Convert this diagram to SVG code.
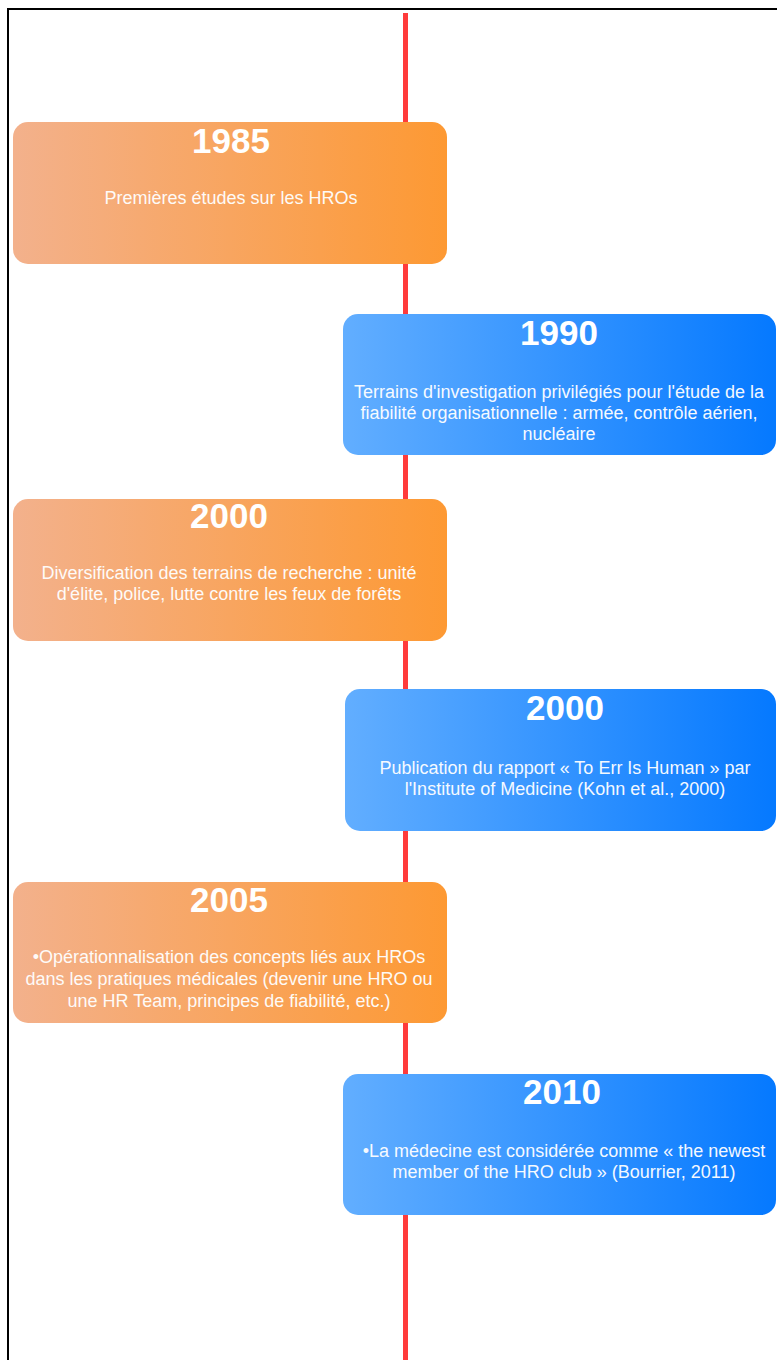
<svg xmlns="http://www.w3.org/2000/svg" width="777" height="1360" viewBox="0 0 777 1360">
<defs>
<linearGradient id="gOr" x1="0" y1="0" x2="1" y2="0">
<stop offset="0" stop-color="#F3B18C"/>
<stop offset="1" stop-color="#FD9933"/>
</linearGradient>
<linearGradient id="gBl" x1="0" y1="0" x2="1" y2="0">
<stop offset="0" stop-color="#62AEFF"/>
<stop offset="1" stop-color="#0579FF"/>
</linearGradient>
<style>
.box{stroke:none}
.or{fill:url(#gOr)}
.bl{fill:url(#gBl)}
.yr{font-family:"Liberation Sans",Arial,sans-serif;font-weight:bold;font-size:35px;fill:#fff;text-anchor:middle}
.tx{font-family:"Liberation Sans",Arial,sans-serif;font-size:18px;fill:#fff;text-anchor:middle;opacity:0.95}
</style>
</defs>
<rect width="777" height="1360" fill="#fff"/>
<path d="M8 1362 V9 H780" fill="none" stroke="#000" stroke-width="2"/>
<g id="connectors">
<line x1="405.5" y1="13" x2="405.5" y2="1362" stroke="#FF3B3B" stroke-width="5"/>
</g>
<g id="n1985">
<rect class="box or" x="13" y="122" width="434" height="142" rx="15"/>
<text class="yr" x="231" y="153">1985</text>
<text class="tx" x="231" y="204">Premières études sur les HROs</text>
</g>
<g id="n1990">
<rect class="box bl" x="343" y="314" width="433" height="141" rx="15"/>
<text class="yr" x="559" y="345">1990</text>
<text class="tx" x="559" y="398">Terrains d'investigation privilégiés pour l'étude de la</text>
<text class="tx" x="559" y="419">fiabilité organisationnelle : armée, contrôle aérien,</text>
<text class="tx" x="559" y="440">nucléaire</text>
</g>
<g id="n2000a">
<rect class="box or" x="13" y="499" width="434" height="142" rx="15"/>
<text class="yr" x="229" y="528">2000</text>
<text class="tx" x="229" y="579">Diversification des terrains de recherche : unité</text>
<text class="tx" x="229" y="600">d'élite, police, lutte contre les feux de forêts</text>
</g>
<g id="n2000b">
<rect class="box bl" x="345" y="689" width="431" height="142" rx="15"/>
<text class="yr" x="565" y="720">2000</text>
<text class="tx" x="565" y="774">Publication du rapport « To Err Is Human » par</text>
<text class="tx" x="565" y="795">l'Institute of Medicine (Kohn et al., 2000)</text>
</g>
<g id="n2005">
<rect class="box or" x="13" y="882" width="434" height="141" rx="15"/>
<text class="yr" x="229" y="912">2005</text>
<text class="tx" x="229" y="963">•Opérationnalisation des concepts liés aux HROs</text>
<text class="tx" x="229" y="985">dans les pratiques médicales (devenir une HRO ou</text>
<text class="tx" x="229" y="1007">une HR Team, principes de fiabilité, etc.)</text>
</g>
<g id="n2010">
<rect class="box bl" x="343" y="1074" width="433" height="141" rx="15"/>
<text class="yr" x="562" y="1104">2010</text>
<text class="tx" x="564" y="1157">•La médecine est considérée comme « the newest</text>
<text class="tx" x="564" y="1178">member of the HRO club » (Bourrier, 2011)</text>
</g>
</svg>
